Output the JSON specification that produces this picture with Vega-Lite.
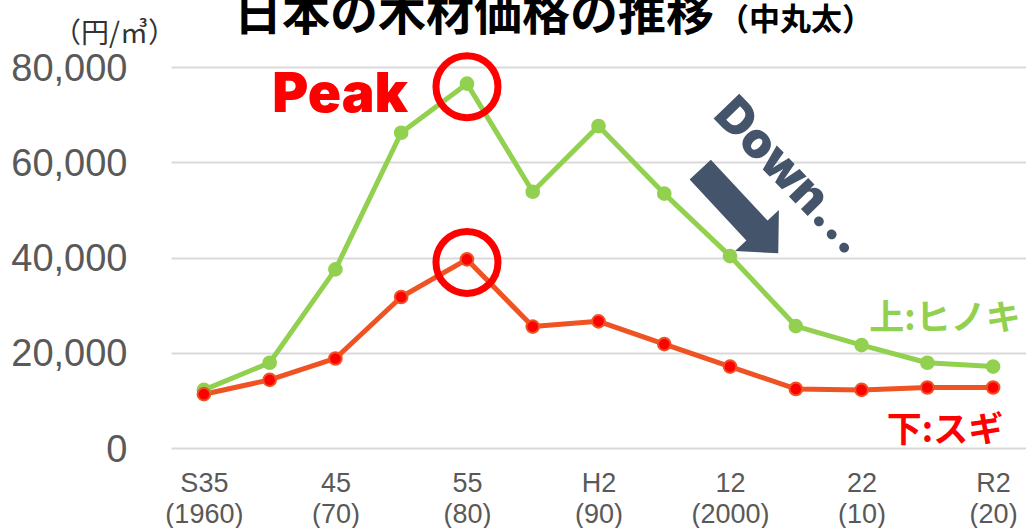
{
  "$schema": "https://vega.github.io/schema/vega-lite/v6.json",
  "width": 855,
  "height": 381,
  "autosize": {"type": "none"},
  "padding": {"left": 171, "top": 67, "right": 0, "bottom": 80},
  "background": "#FFFFFF",
  "config": {"view": {"stroke": null}},
  "datasets": {
    "prices": [
      {"year": 1960, "series": "ヒノキ", "price": 12200},
      {"year": 1965, "series": "ヒノキ", "price": 17900},
      {"year": 1970, "series": "ヒノキ", "price": 37500},
      {"year": 1975, "series": "ヒノキ", "price": 66200},
      {"year": 1980, "series": "ヒノキ", "price": 76500},
      {"year": 1985, "series": "ヒノキ", "price": 53800},
      {"year": 1990, "series": "ヒノキ", "price": 67600},
      {"year": 1995, "series": "ヒノキ", "price": 53400},
      {"year": 2000, "series": "ヒノキ", "price": 40300},
      {"year": 2005, "series": "ヒノキ", "price": 25600},
      {"year": 2010, "series": "ヒノキ", "price": 21600},
      {"year": 2015, "series": "ヒノキ", "price": 17900},
      {"year": 2020, "series": "ヒノキ", "price": 17100},
      {"year": 1960, "series": "スギ", "price": 11300},
      {"year": 1965, "series": "スギ", "price": 14300},
      {"year": 1970, "series": "スギ", "price": 18800},
      {"year": 1975, "series": "スギ", "price": 31700},
      {"year": 1980, "series": "スギ", "price": 39600},
      {"year": 1985, "series": "スギ", "price": 25500},
      {"year": 1990, "series": "スギ", "price": 26600},
      {"year": 1995, "series": "スギ", "price": 21800},
      {"year": 2000, "series": "スギ", "price": 17100},
      {"year": 2005, "series": "スギ", "price": 12400},
      {"year": 2010, "series": "スギ", "price": 12200},
      {"year": 2015, "series": "スギ", "price": 12700},
      {"year": 2020, "series": "スギ", "price": 12700}
    ],
    "one": [{}]
  },
  "layer": [
    {
      "data": {"name": "one"},
      "mark": {
        "type": "point",
        "shape": "M-0.2535,-1L0.2535,-1L0.2535,0.4545L0.5245,0.4545L0,1L-0.5245,0.4545L-0.2535,0.4545Z",
        "filled": true,
        "fill": "#44546A",
        "strokeWidth": 0,
        "opacity": 1,
        "size": 13087,
        "angle": -43
      },
      "encoding": {
        "x": {"datum": 2000.7, "type": "quantitative"},
        "y": {"datum": 49660, "type": "quantitative"}
      }
    },
    {
      "data": {"name": "one"},
      "mark": {
        "type": "text",
        "text": "Down...",
        "font": "Inter",
        "fontSize": 49,
        "fontWeight": 900,
        "color": "#44546A",
        "align": "center",
        "baseline": "middle",
        "angle": 46
      },
      "encoding": {
        "x": {"datum": 2004.6, "type": "quantitative"},
        "y": {"datum": 57000, "type": "quantitative"}
      }
    },
    {
      "data": {"name": "prices"},
      "mark": {"type": "line", "strokeWidth": 5, "strokeJoin": "round"},
      "encoding": {
        "x": {
          "field": "year",
          "type": "quantitative",
          "scale": {"domain": [1957.5, 2022.5], "nice": false, "zero": false},
          "axis": {
            "values": [1960, 1970, 1980, 1990, 2000, 2010, 2020],
            "labelExpr": "datum.value == 1960 ? ['S35', '(1960)'] : datum.value == 1970 ? ['45', '(70)'] : datum.value == 1980 ? ['55', '(80)'] : datum.value == 1990 ? ['H2', '(90)'] : datum.value == 2000 ? ['12', '(2000)'] : datum.value == 2010 ? ['22', '(10)'] : ['R2', '(20)']",
            "title": null,
            "grid": false,
            "domain": false,
            "ticks": false,
            "tickSize": 0,
            "labelFont": "Liberation Sans",
            "labelFontSize": 27,
            "labelColor": "#595959",
            "labelLineHeight": 31,
            "labelBaseline": "top",
            "labelPadding": 22,
            "labelFlush": false,
            "labelOverlap": false,
            "labelBound": false
          }
        },
        "y": {
          "field": "price",
          "type": "quantitative",
          "scale": {"domain": [0, 80000], "nice": false},
          "axis": {
            "values": [0, 20000, 40000, 60000, 80000],
            "format": ",.0f",
            "title": "（円/㎥）",
            "titleAngle": 0,
            "titleX": -57,
            "titleY": -33,
            "titleAlign": "center",
            "titleBaseline": "middle",
            "titleFont": "Noto Sans CJK JP",
            "titleFontSize": 28,
            "titleFontWeight": "normal",
            "titleColor": "#333333",
            "grid": true,
            "gridColor": "#D9D9D9",
            "gridWidth": 2,
            "domain": false,
            "ticks": false,
            "tickSize": 0,
            "labelFont": "Liberation Sans",
            "labelFontSize": 38,
            "labelColor": "#595959",
            "labelPadding": 44,
            "labelOffset": 2
          }
        },
        "color": {
          "field": "series",
          "type": "nominal",
          "scale": {"domain": ["ヒノキ", "スギ"], "range": ["#92D050", "#F05323"]},
          "legend": null
        }
      }
    },
    {
      "data": {"name": "prices"},
      "mark": {"type": "point", "filled": true, "size": 160, "strokeWidth": 2, "opacity": 1},
      "encoding": {
        "x": {"field": "year", "type": "quantitative"},
        "y": {"field": "price", "type": "quantitative"},
        "fill": {
          "field": "series",
          "type": "nominal",
          "scale": {"domain": ["ヒノキ", "スギ"], "range": ["#92D050", "#FF0000"]},
          "legend": null
        },
        "stroke": {
          "field": "series",
          "type": "nominal",
          "scale": {"domain": ["ヒノキ", "スギ"], "range": ["#92D050", "#F05323"]},
          "legend": null
        }
      }
    },
    {
      "data": {"name": "prices"},
      "transform": [{"filter": "datum.year == 1980"}],
      "mark": {
        "type": "point",
        "shape": "circle",
        "filled": false,
        "stroke": "#FF0000",
        "strokeWidth": 7,
        "size": 3844,
        "opacity": 1,
        "yOffset": 3
      },
      "encoding": {
        "x": {"field": "year", "type": "quantitative"},
        "y": {"field": "price", "type": "quantitative"}
      }
    },
    {
      "data": {"name": "one"},
      "mark": {
        "type": "text",
        "text": "Peak",
        "font": "Inter",
        "fontSize": 55,
        "fontWeight": 900,
        "color": "#FF0000",
        "align": "center",
        "baseline": "alphabetic"
      },
      "encoding": {
        "x": {"datum": 1970.35, "type": "quantitative"},
        "y": {"datum": 70550, "type": "quantitative"}
      }
    },
    {
      "data": {"name": "one"},
      "mark": {
        "type": "text",
        "text": "上:ヒノキ",
        "font": "Noto Sans CJK JP",
        "fontSize": 35,
        "fontWeight": "bold",
        "color": "#92D050",
        "align": "center",
        "baseline": "middle"
      },
      "encoding": {
        "x": {"datum": 2016.34, "type": "quantitative"},
        "y": {"datum": 27050, "type": "quantitative"}
      }
    },
    {
      "data": {"name": "one"},
      "mark": {
        "type": "text",
        "text": "下:スギ",
        "font": "Noto Sans CJK JP",
        "fontSize": 35,
        "fontWeight": "bold",
        "color": "#FF0000",
        "align": "center",
        "baseline": "middle"
      },
      "encoding": {
        "x": {"datum": 2016.34, "type": "quantitative"},
        "y": {"datum": 3670, "type": "quantitative"}
      }
    },
    {
      "data": {"name": "one"},
      "mark": {
        "type": "text",
        "text": "日本の木材価格の推移",
        "font": "Noto Sans CJK JP",
        "fontSize": 48,
        "fontWeight": "bold",
        "color": "#000000",
        "align": "center",
        "baseline": "alphabetic"
      },
      "encoding": {
        "x": {"datum": 1980.53, "type": "quantitative"},
        "y": {"datum": 87800, "type": "quantitative"}
      }
    },
    {
      "data": {"name": "one"},
      "mark": {
        "type": "text",
        "text": "（中丸太）",
        "font": "Noto Sans CJK JP",
        "fontSize": 31,
        "fontWeight": "bold",
        "color": "#000000",
        "align": "center",
        "baseline": "alphabetic"
      },
      "encoding": {
        "x": {"datum": 2004.98, "type": "quantitative"},
        "y": {"datum": 87800, "type": "quantitative"}
      }
    }
  ]
}
